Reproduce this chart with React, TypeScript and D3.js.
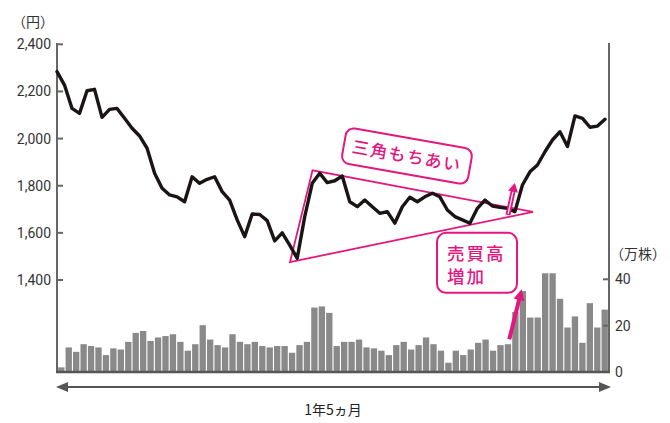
import React from "react";
import * as d3 from "d3";

// ---- data ----
const prices = [
  2284, 2227, 2128, 2107, 2203, 2209, 2090, 2124, 2128, 2086,
  2044, 2011, 1959, 1853, 1789, 1761, 1753, 1732, 1838, 1810,
  1827, 1838, 1775, 1739, 1655, 1584, 1680, 1678, 1652, 1566,
  1600, 1548, 1492, 1669, 1810, 1853, 1813, 1821, 1841, 1732,
  1711, 1739, 1711, 1683, 1690, 1641, 1711, 1751, 1732, 1753,
  1768, 1753, 1697, 1669, 1655, 1641, 1704, 1739, 1714, 1708,
  1704, 1690, 1803, 1859, 1888, 1944, 1994, 2029, 1966, 2096,
  2086, 2048, 2053, 2082,
];
const volumes = [
  2, 10.6, 8.7, 12, 11.2, 10.6, 7.3, 10.2, 9.7, 13,
  16.9, 17.7, 13.4, 14.9, 15.5, 16.3, 13, 9.2, 12, 20.2,
  14, 11.6, 10.6, 16.3, 13, 12, 13, 11.2, 10.6, 11.2,
  11.2, 8.3, 11.6, 13, 27.8, 28.3, 25.5, 11.2, 13, 13,
  14, 10.6, 10.2, 9.2, 7.3, 11.6, 13, 9.7, 11.6, 14.9,
  12, 9.2, 4, 9.2, 7.3, 9.7, 12.6, 14, 9.2, 11.6,
  12, 25.9, 34.9, 23.5, 23.5, 42.6, 42.6, 31.6, 19.2, 24,
  12.6, 29.7, 19.2, 26.9,
];
const weeks = prices.map((_, i) => i);
const priceTicks = [1400, 1600, 1800, 2000, 2200, 2400];
const volumeTicks = [0, 20, 40];
const priceUnit = "（円）";
const volumeUnit = "（万株）";
const periodLabel = "1年5ヵ月";
const triangleLabel = "三角もちあい";
const volumeLabelLines = ["売買高", "増加"];
// triangle annotation in (week index, price)
const triangle: [number, number][] = [
  [31.04, 1476],
  [34.04, 1865],
  [63.41, 1689],
];
const triangleLabelAt: [number, number] = [46.62, 1926];
const volumeLabelAt: [number, number] = [50.62, 1600];
const breakoutArrow: [number, number][] = [
  [60.07, 1676],
  [61.0, 1812],
];
const volumeArrow: [number, number][] = [
  [60.25, 14.1],
  [61.9, 35.7],
];

const PINK = "#e4177f";
const AXIS = "#666";
const TEXT = "#333";
const NUMFONT = "Roboto, 'DejaVu Sans', sans-serif";
const JPFONT = "'Noto Sans CJK JP', sans-serif";

function Arrow({ x1, y1, x2, y2, shaft, headLen, headW, hollow }: any) {
  const ang = Math.atan2(y2 - y1, x2 - x1);
  const deg = (ang * 180) / Math.PI;
  const len = Math.hypot(x2 - x1, y2 - y1);
  return (
    <g transform={`translate(${x1},${y1}) rotate(${deg})`}>
      <line x1={0} y1={0} x2={len - headLen + 1} y2={0} stroke={PINK} strokeWidth={shaft} />
      {hollow && (
        <line x1={1} y1={0} x2={len - headLen} y2={0} stroke="#fff" strokeWidth={1.2} />
      )}
      <polygon
        points={`${len},0 ${len - headLen},${-headW / 2} ${len - headLen},${headW / 2}`}
        fill={PINK}
      />
    </g>
  );
}

export default function App() {
  const W = 670;
  const H = 423;
  const left = 57;
  const right = 609;

  const x = d3.scaleLinear().domain([0, weeks.length - 1]).range([57, 605]);
  const xb = d3.scaleBand<number>().domain(weeks).range([left, right]).padding(0.15);
  const yP = d3.scaleLinear().domain([1400, 2400]).range([280, 44.3]);
  const yV = d3.scaleLinear().domain([0, 40]).range([372, 279.3]);

  const line = d3
    .line<number>()
    .x((_, i) => x(i))
    .y((d) => yP(d))
    .curve(d3.curveLinear);

  const triPts = triangle.map(([i, p]) => `${x(i)},${yP(p)}`).join(" ");

  const [t1x, t1y] = [x(triangleLabelAt[0]), yP(triangleLabelAt[1])];
  const [v1x, v1y] = [x(volumeLabelAt[0]), yP(volumeLabelAt[1])];

  return (
    <svg
      width={W}
      height={H}
      viewBox={`0 0 ${W} ${H}`}
      style={{ position: "absolute", left: 0, top: 0, background: "#fff" }}
    >
      <rect width={W} height={H} fill="#fff" />

      {/* volume bars */}
      <g>
        {volumes.map((v, i) => (
          <rect
            key={i}
            x={xb(i)}
            y={yV(v)}
            width={xb.bandwidth()}
            height={yV(0) - yV(v)}
            fill="#898989"
          />
        ))}
      </g>

      {/* axes */}
      <line x1={left} y1={43} x2={left} y2={373} stroke={AXIS} strokeWidth={2} />
      <line x1={right} y1={43} x2={right} y2={373} stroke={AXIS} strokeWidth={2} />
      <line x1={left - 1} y1={372} x2={right + 1} y2={372} stroke="#555" strokeWidth={2.5} />

      {priceTicks.map((t) => (
        <g key={t}>
          <line x1={left} x2={left + 6} y1={yP(t)} y2={yP(t)} stroke={AXIS} strokeWidth={2} />
          <text
            x={left - 6}
            y={yP(t)}
            dy="0.36em"
            textAnchor="end"
            fontFamily={NUMFONT}
            fontSize={14}
            fill={TEXT}
          >
            {d3.format(",")(t)}
          </text>
        </g>
      ))}
      {volumeTicks.map((t) => (
        <g key={t}>
          {t > 0 && (
            <line x1={right - 6} x2={right} y1={yV(t)} y2={yV(t)} stroke={AXIS} strokeWidth={2} />
          )}
          <text
            x={right + 6}
            y={yV(t)}
            dy="0.36em"
            textAnchor="start"
            fontFamily={NUMFONT}
            fontSize={14}
            fill={TEXT}
          >
            {t}
          </text>
        </g>
      ))}
      <text x={12} y={22} dy="0.35em" fontFamily={JPFONT} fontSize={14} fill={TEXT}>
        {priceUnit}
      </text>
      <text x={610} y={254} dy="0.35em" fontFamily={JPFONT} fontSize={14} fill={TEXT}>
        {volumeUnit}
      </text>

      {/* period arrow */}
      <g>
        <line x1={left + 6} y1={387} x2={right - 6} y2={387} stroke="#555" strokeWidth={2} />
        <polygon points={`${left - 1},387 ${left + 11},382 ${left + 11},392`} fill="#555" />
        <polygon points={`${right + 2},387 ${right - 10},382 ${right - 10},392`} fill="#555" />
        <text
          x={333}
          y={410}
          dy="0.35em"
          textAnchor="middle"
          fontFamily={JPFONT}
          fontSize={14}
          fill="#222"
        >
          {periodLabel}
        </text>
      </g>

      {/* triangle */}
      <polygon points={triPts} fill="none" stroke={PINK} strokeWidth={1.8} strokeLinejoin="miter" />

      {/* price line */}
      <path
        d={line(prices) || ""}
        fill="none"
        stroke="#1a1414"
        strokeWidth={3.4}
        strokeLinejoin="round"
        strokeLinecap="round"
      />

      {/* breakout arrow */}
      <Arrow
        x1={x(breakoutArrow[0][0])}
        y1={yP(breakoutArrow[0][1])}
        x2={x(breakoutArrow[1][0])}
        y2={yP(breakoutArrow[1][1])}
        shaft={5}
        headLen={9}
        headW={10}
        hollow
      />

      {/* volume arrow */}
      <Arrow
        x1={x(volumeArrow[0][0])}
        y1={yV(volumeArrow[0][1])}
        x2={x(volumeArrow[1][0])}
        y2={yV(volumeArrow[1][1])}
        shaft={4}
        headLen={11}
        headW={11}
      />

      {/* triangle label */}
      <g transform={`translate(${t1x},${t1y}) rotate(10)`}>
        <rect x={-64} y={-18} width={128} height={36} rx={8} fill="#fff" stroke={PINK} strokeWidth={2} />
        <text
          x={0}
          y={0}
          dy="0.36em"
          textAnchor="middle"
          fontFamily={JPFONT}
          fontSize={17}
          fontWeight={500}
          letterSpacing={1.5}
          fill={PINK}
        >
          {triangleLabel}
        </text>
      </g>

      {/* volume label */}
      <g transform={`translate(${v1x},${v1y})`}>
        <rect x={0} y={0} width={80} height={60} rx={9} fill="#fff" stroke={PINK} strokeWidth={2} />
        {volumeLabelLines.map((s, k) => (
          <text
            key={k}
            x={10}
            y={21 + k * 23}
            dy="0.36em"
            fontFamily={JPFONT}
            fontSize={17.5}
            fontWeight={500}
            letterSpacing={2}
            fill={PINK}
          >
            {s}
          </text>
        ))}
      </g>
    </svg>
  );
}
